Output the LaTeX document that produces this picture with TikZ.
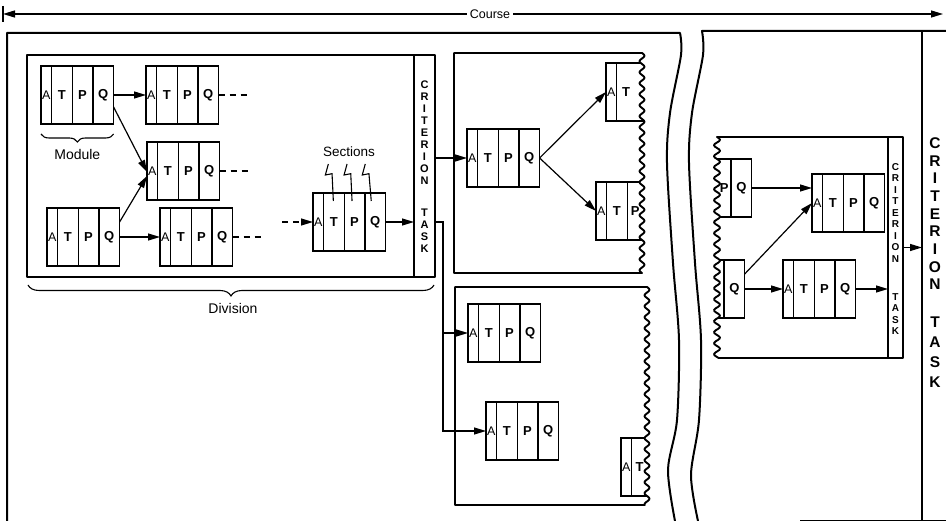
\documentclass[tikz,border=0pt]{standalone}
\usepackage{fontspec}
\setmainfont{Liberation Sans}
\usetikzlibrary{arrows.meta,decorations.pathreplacing,calc}
\newcommand\FullMod[3]{%
  \node[cellA] (#1a) at (#2,#3) {A};
  \node[cell] (#1t) at (#1a.north east) {T};
  \node[cell] (#1p) at (#1t.north east) {P};
  \node[cell] (#1q) at (#1p.north east) {Q};}
\begin{document}
\begin{tikzpicture}[x=1pt,y=-1pt,
  outerbox/.style={line width=2pt, line join=round},
  box/.style={line width=1.9pt, line join=round},
  cellbase/.style={draw, line width=1.2pt, inner sep=0pt, outer sep=0pt, minimum height=58pt, anchor=north west},
  cellA/.style={cellbase, minimum width=10.5pt, font=\fontsize{12.5}{13}\selectfont},
  cell/.style={cellbase, minimum width=20.7pt, font=\fontsize{13}{14}\selectfont\bfseries},
  tip/.style={-{Triangle[length=12pt,width=7pt]}},
  arr/.style={line width=1.2pt, tip},
  dsh/.style={line width=1.2pt, dash pattern=on 6pt off 5pt},
  lbl/.style={font=\fontsize{14}{16}\selectfont, inner sep=1pt},
  critbar/.style={inner sep=0pt, outer sep=0pt},
  bracestyle/.style={line width=1.1pt, decorate},
  squig/.style={line width=1.1pt},
]
\useasboundingbox (0,0) rectangle (946,521);

% ---- Course arrow
\coordinate (cL) at (3,14);
\coordinate (cR) at (943,14);
\node[font=\fontsize{12.5}{14}\selectfont, inner xsep=3pt] (course) at (490,14) {Course};
\draw[line width=1.3pt, tip] (course.west) -- (cL);
\draw[line width=1.3pt, tip] (course.east) -- (cR);
\draw[line width=1.3pt] ($(cL)+(0,-8)$) -- ($(cL)+(0,8)$);

% ---- outer frames
\draw[outerbox] (7,521) -- (7,33) -- plot[smooth] coordinates {(680,33) (681,55) (670,113) (667,163) (673,263) (679,340) (677,420) (668,470) (675,521)};
\draw[outerbox] plot[smooth] coordinates {(698,521) (691,475) (699,420) (701,340) (695,263) (689,163) (692,113) (703,55) (702,31)} -- (946,31);
\draw[outerbox] (922,31) -- (922,521);
\draw[line width=1pt] (800,520) -- (946,520);

% ---- Division box
\draw[box] (27,55) rectangle (435,277);
\node[critbar, minimum width=21pt, minimum height=222pt] (crit1) at (424.5,166) {};
\draw[line width=1.3pt] (crit1.north west) -- (crit1.south west);
\node[anchor=north, inner sep=0pt, align=center, font=\fontsize{11}{12}\selectfont\bfseries] (ct1) at (424.5,81) {C\\R\\I\\T\\E\\R\\I\\O\\N\\[20pt]T\\A\\S\\K};

\FullMod{m1}{41}{66}
\FullMod{m2}{146}{66}
\FullMod{m3}{147}{142}
\FullMod{m4}{47}{208}
\FullMod{m5}{160}{208}
\FullMod{m6}{313}{193}

\draw[bracestyle, decoration={brace, mirror, amplitude=8pt}] ($(m1a.south west)+(0,10)$) -- ($(m1q.south east)+(0,10)$);
\node[lbl] (modlbl) at ($(m1a.south west)!0.5!(m1q.south east)+(0,30)$) {Module};
\draw[bracestyle, decoration={brace, mirror, amplitude=11pt}] (28,285) -- (434,285);
\node[lbl] (divlbl) at (233,308) {Division};

\node[lbl, font=\fontsize{13.5}{16}\selectfont] (sect) at (349,152) {Sections};
\draw[squig] ($(m6t.north)+(-5.5,-29)$) -- ++(-3,11) -- ++(6.7,-1.3) -- ($(m6t.north)+(-0.5,8)$);
\draw[squig] ($(m6p.north)+(-7.5,-29)$) -- ++(-3,11) -- ++(6.7,-1.3) -- ($(m6p.north)+(-2.5,8)$);
\draw[squig] ($(m6q.north)+(-10,-29)$) -- ++(-3,11) -- ++(6.7,-1.3) -- ($(m6q.north)+(-4,8)$);

\draw[arr] (m1q.east) -- (m2a.west);
\draw[arr] ($(m1q.east)+(0,12)$) -- ($(m3a.west)+(0,1)$);
\draw[arr] ($(m4q.east)+(0,-15)$) -- ($(m3a.west)+(0,5)$);
\draw[arr] (m4q.east) -- (m5a.west);
\draw[dsh] (m2q.east) -- ++(30,0) coordinate (d2);
\draw[dsh] (m3q.east) -- ++(30,0) coordinate (d3);
\draw[dsh] (m5q.east) -- ++(30,0) coordinate (d5);
\coordinate (d6) at (282,222);
\draw[dsh, tip] (d6) -- (m6a.west);
\draw[arr] (m6q.east) -- (crit1.west |- m6q.east);

% ---- upper middle box
\begin{scope}
\clip (454,273) -- (454,53) -- plot[variable=\t, domain=53:273, samples=161, smooth] ({642+2.5*sin(32.727*(\t-53))},\t) -- cycle;
\FullMod{m7}{467}{129}
\node[cellA] (m8a) at (606,63) {A};
\node[cell, minimum width=40pt] (m8t) at (m8a.north east) {\makebox[19pt]{T}\hspace*{21pt}};
\node[cellA] (m9a) at (596,182) {A};
\node[cell] (m9t) at (m9a.north east) {T};
\node[cell, minimum width=40pt] (m9p) at (m9t.north east) {\makebox[16pt]{P}\hspace*{24pt}};
\draw[arr] (m7q.east) -- (m8a.west);
\draw[arr] (m7q.east) -- (m9a.west);
\end{scope}
\draw[box] (454,273) -- (454,53) -- plot[variable=\t, domain=53:273, samples=161, smooth] ({642+2.5*sin(32.727*(\t-53))},\t) -- cycle;

% ---- lower middle box
\begin{scope}
\clip (455,505) -- (455,287) -- plot[variable=\t, domain=287:505, samples=161, smooth] ({647+2.5*sin(32.727*(\t-287))},\t) -- cycle;
\FullMod{m10}{468}{304}
\FullMod{m11}{486}{402}
\node[cellA] (m12a) at (621,438) {A};
\node[cell, minimum width=40pt] (m12t) at (m12a.north east) {\makebox[16pt]{T}\hspace*{24pt}};
\end{scope}
\draw[box] (455,505) -- (455,287) -- plot[variable=\t, domain=287:505, samples=161, smooth] ({647+2.5*sin(32.727*(\t-287))},\t) -- cycle;

% ---- connectors from division criterion task
\draw[arr] (crit1.east |- m7a.west) -- (m7a.west);
\draw[arr] (crit1.east |- m6q.east) -- ++(8,0) coordinate (j1) |- (m11a.west);
\draw[arr] (j1 |- m10a.west) -- (m10a.west);

% ---- right inner box
\begin{scope}
\clip (903,137) -- plot[variable=\t, domain=137:358, samples=161, smooth] ({717+3*sin(32.727*(\t-137))},\t) -- (903,358) -- cycle;
\node[cell, minimum width=40pt] (m13p) at (691,159) {\hspace*{26.5pt}\makebox[13.5pt]{P}};
\node[cell] (m13q) at (m13p.north east) {Q};
\FullMod{m14}{812}{174}
\node[cell, minimum width=30pt] (m15p) at (694,260) {};
\node[cell] (m15q) at (m15p.north east) {Q};
\FullMod{m16}{783}{260}
\node[critbar, minimum width=15pt, minimum height=221pt] (crit2) at (895.5,247.5) {};
\draw[arr] (m13q.east) -- (m14a.west |- m13q.east);
\draw[arr] ($(m15q.east)+(0,-15)$) -- (m14a.west);
\draw[arr] (m15q.east) -- (m16a.west);
\draw[arr] (m16q.east) -- (crit2.west |- m16q.east);
\end{scope}
\draw[box] (903,137) -- plot[variable=\t, domain=137:358, samples=161, smooth] ({717+3*sin(32.727*(\t-137))},\t) -- (903,358) -- cycle;
\draw[line width=1.3pt] (crit2.north west) -- (crit2.south west);
\node[anchor=north, inner sep=0pt, align=center, font=\fontsize{10}{11.5}\selectfont\bfseries] (ct2) at (895.5,163.3) {C\\R\\I\\T\\E\\R\\I\\O\\N\\[26.5pt]T\\A\\S\\K};
\coordinate (oR) at (922,247.5);
\draw[arr] (crit2.east) -- (oR);

% ---- course criterion task
\node[anchor=north, inner sep=0pt, align=center, font=\fontsize{15.5}{17.7}\selectfont\bfseries] (ct3a) at (935,137.3) {C\\R\\I\\T\\E\\R\\I\\O\\N};
\node[anchor=north, inner sep=0pt, align=center, font=\fontsize{15.5}{20}\selectfont\bfseries] (ct3b) at (935,316.3) {T\\A\\S\\K};
\end{tikzpicture}
\end{document}
